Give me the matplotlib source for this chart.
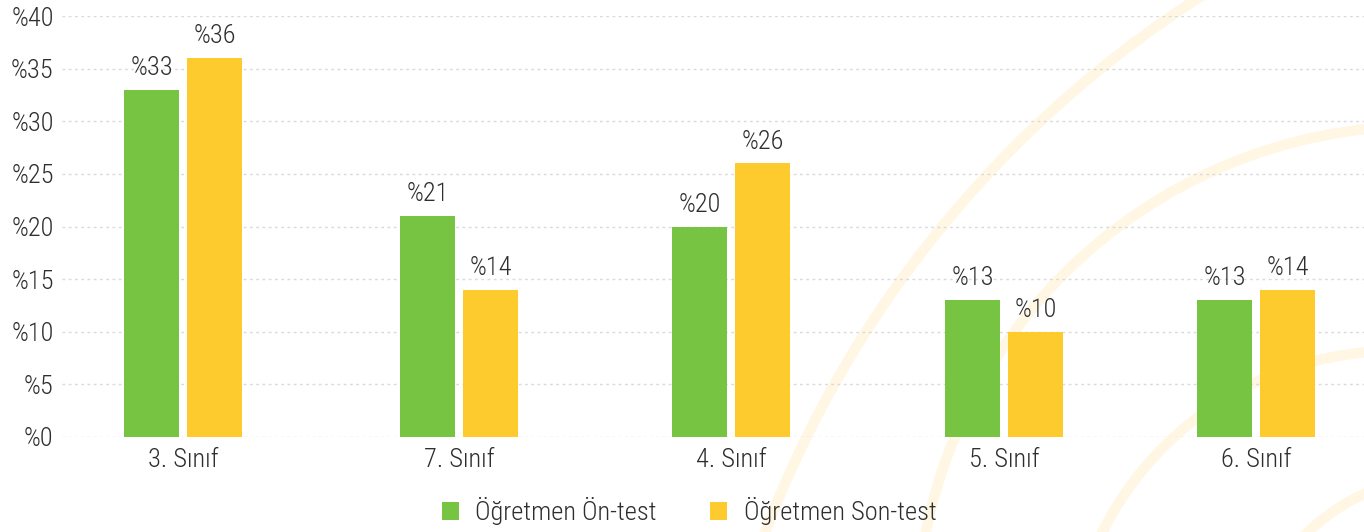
import matplotlib
matplotlib.use("Agg")
import matplotlib.pyplot as plt
from matplotlib import font_manager
from matplotlib.patches import Circle, Patch

# ---- data ----
categories = ["3. Sınıf", "7. Sınıf", "4. Sınıf", "5. Sınıf", "6. Sınıf"]
on_test = [33, 21, 20, 13, 13]
son_test = [36, 14, 26, 10, 14]
series_names = ["Öğretmen Ön-test", "Öğretmen Son-test"]
y_ticks = [0, 5, 10, 15, 20, 25, 30, 35, 40]
y_tick_labels = ["%" + str(v) for v in y_ticks]

# ---- layout (group centres, slightly irregular in the reference) ----
group_pos = [0.0, 1.011, 2.007, 3.007, 3.932]

available = {f.name for f in font_manager.fontManager.ttflist}
family = "DejaVu Sans"
for cand in ["Roboto Condensed", "Liberation Sans Narrow", "Open Sans Condensed", "Roboto", "Lato"]:
    if cand in available:
        family = cand
        break
plt.rcParams["font.family"] = [family, "DejaVu Sans"]
plt.rcParams["font.weight"] = "light"

GREEN = "#76C442"
YELLOW = "#FDCB2E"
TEXT = "#2e2e2e"
FS = 19
W, H = 1364, 532

fig = plt.figure(figsize=(W / 100, H / 100), dpi=100)
fig.patch.set_facecolor("white")

# background decorative arcs (figure pixel coordinates)
bg = fig.add_axes([0, 0, 1, 1], zorder=0)
bg.set_xlim(0, W)
bg.set_ylim(H, 0)
bg.axis("off")
arc_color = "#FFF7E4"
for (cx, cy, r) in [(1794, 924, 1101), (1421, 631, 505), (1395, 678, 327), (1450, 680, 205)]:
    bg.add_patch(Circle((cx, cy), r, fill=False, edgecolor=arc_color, linewidth=7.5))

# main axes
left_px, right_px, top_px, bottom_px = 62, 1364, 16, 437
ax = fig.add_axes([left_px / W, (H - bottom_px) / H, (right_px - left_px) / W, (bottom_px - top_px) / H], zorder=1)
ax.patch.set_visible(False)

unit = 273.0
xmin = -(183 - left_px) / unit
xmax = xmin + (right_px - left_px) / unit
ax.set_xlim(xmin, xmax)
ax.set_ylim(0, 40)

bw = 55 / unit
off = 31.5 / unit
gx = [p - off for p in group_pos]
yx = [p + off for p in group_pos]
b1 = ax.bar(gx, on_test, width=bw, color=GREEN, zorder=3)
b2 = ax.bar(yx, son_test, width=bw, color=YELLOW, zorder=3)

for bars, vals in [(b1, on_test), (b2, son_test)]:
    for rect, v in zip(bars, vals):
        ax.annotate("%" + str(v), (rect.get_x() + rect.get_width() / 2, v),
                    xytext=(0, 7), textcoords="offset points",
                    ha="center", va="bottom", fontsize=FS, color=TEXT)

ax.set_yticks(y_ticks)
ax.set_yticklabels(y_tick_labels)
ax.set_xticks(group_pos)
ax.set_xticklabels(categories)
ax.tick_params(axis="both", length=0, labelsize=FS, labelcolor=TEXT)
ax.tick_params(axis="y", pad=6)
ax.tick_params(axis="x", pad=8)
ax.grid(axis="y", color="#dadada", linestyle=(0, (2, 2.5)), linewidth=1.0, zorder=0)
ax.set_axisbelow(True)
for s in ax.spines.values():
    s.set_visible(False)

handles = [Patch(facecolor=GREEN, edgecolor="none"), Patch(facecolor=YELLOW, edgecolor="none")]
fig.legend(handles, series_names, loc="center", bbox_to_anchor=(689 / W, (H - 511) / H),
           ncol=2, frameon=False, fontsize=FS, labelcolor=TEXT,
           handlelength=0.66, handleheight=0.66, handletextpad=0.62, columnspacing=2.0)

fig.savefig("out.png", dpi=100, facecolor="white")
